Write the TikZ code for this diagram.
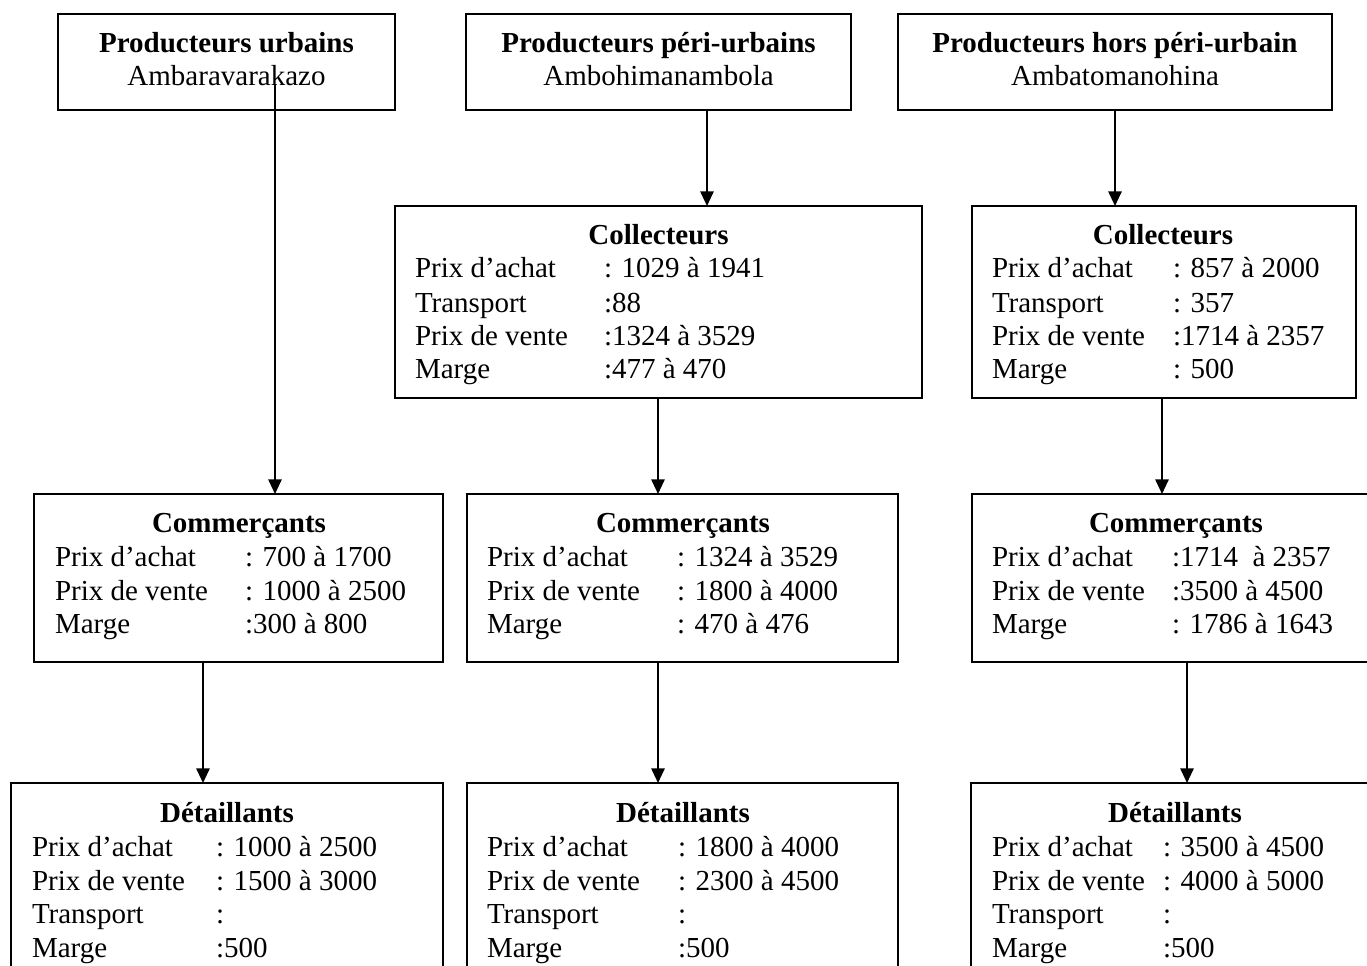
\documentclass[tikz,border=0pt]{standalone}
\usepackage{fontspec}
\setmainfont{Liberation Serif}
\usetikzlibrary{arrows.meta}
\tikzset{
 boxst/.style={draw, line width=1.4pt, inner sep=0pt, outer sep=0pt},
 txt/.style={inner sep=0pt, outer sep=0pt, font=\fontsize{21.75pt}{25.5pt}\selectfont},
 ttl/.style={inner sep=0pt, outer sep=0pt, anchor=base, font=\fontsize{21.75pt}{25.5pt}\selectfont\bfseries},
 sub/.style={txt, anchor=base},
 lab/.style={txt, anchor=base west},
 arr/.style={line width=1.4pt, -{Triangle[length=11pt,width=10pt]}},
}
\newcommand\boxnode[5]{\node[boxst, minimum width={(#4-#2)*0.75pt}, minimum height={(#5-#3)*0.75pt}] (#1) at ({(#2+#4)/2},{(#3+#5)/2}) {};}
\newcommand\rowline[6]{\node[lab] (#1l) at (#2,#4) {#5}; \node[lab] (#1v) at (#3,#4) {#6};}
\begin{document}
\begin{tikzpicture}[x=0.75pt,y=-0.75pt]
\useasboundingbox (0,0) rectangle (1367,966);
\clip (0,0) rectangle (1367,966);
% boxes
\boxnode{p1}{58}{14}{395}{110}
\boxnode{p2}{466}{14}{851}{110}
\boxnode{p3}{898}{14}{1332}{110}
\boxnode{cm}{395}{206}{922}{398}
\boxnode{cr}{972}{206}{1356}{398}
\boxnode{kl}{34}{494}{443}{662}
\boxnode{km}{467}{494}{898}{662}
\boxnode{kr}{972}{494}{1380}{662}
\boxnode{dl}{11}{783}{443}{990}
\boxnode{dm}{467}{783}{898}{990}
\boxnode{dr}{971}{783}{1380}{990}
% producers
\node[ttl] (p1t) at (226.5,53) {Producteurs urbains};
\node[sub] (p1s) at (226.5,86) {Ambaravarakazo};
\node[ttl] (p2t) at (658.5,53) {Producteurs péri-urbains};
\node[sub] (p2s) at (658.5,86) {Ambohimanambola};
\node[ttl] (p3t) at (1115,53) {Producteurs hors péri-urbain};
\node[sub] (p3s) at (1115,86) {Ambatomanohina};
% collecteurs middle
\node[ttl] (cmt) at (658.5,245) {Collecteurs};
\rowline{cma}{415}{604}{278}{Prix d’achat}{: 1029 à 1941}
\rowline{cmb}{415}{604}{312}{Transport}{:88}
\rowline{cmc}{415}{604}{345}{Prix de vente}{:1324 à 3529}
\rowline{cmd}{415}{604}{378}{Marge}{:477 à 470}
% collecteurs right
\node[ttl] (crt) at (1163,245) {Collecteurs};
\rowline{cra}{992}{1173}{278}{Prix d’achat}{: 857 à 2000}
\rowline{crb}{992}{1173}{312}{Transport}{: 357}
\rowline{crc}{992}{1173}{345}{Prix de vente}{:1714 à 2357}
\rowline{crd}{992}{1173}{378}{Marge}{: 500}
% commercants left
\node[ttl] (klt) at (239,532) {Commerçants};
\rowline{kla}{55}{245}{566}{Prix d’achat}{: 700 à 1700}
\rowline{klb}{55}{245}{600}{Prix de vente}{: 1000 à 2500}
\rowline{klc}{55}{245}{633}{Marge}{:300 à 800}
% commercants middle
\node[ttl] (kmt) at (683,532) {Commerçants};
\rowline{kma}{487}{677}{566}{Prix d’achat}{: 1324 à 3529}
\rowline{kmb}{487}{677}{600}{Prix de vente}{: 1800 à 4000}
\rowline{kmc}{487}{677}{633}{Marge}{: 470 à 476}
% commercants right
\node[ttl] (krt) at (1176,532) {Commerçants};
\rowline{kra}{992}{1172}{566}{Prix d’achat}{:1714\ \ à 2357}
\rowline{krb}{992}{1172}{600}{Prix de vente}{:3500 à 4500}
\rowline{krc}{992}{1172}{633}{Marge}{: 1786 à 1643}
% detaillants left
\node[ttl] (dlt) at (227,822) {Détaillants};
\rowline{dla}{32}{216}{856}{Prix d’achat}{: 1000 à 2500}
\rowline{dlb}{32}{216}{890}{Prix de vente}{: 1500 à 3000}
\rowline{dlc}{32}{216}{923}{Transport}{:}
\rowline{dld}{32}{216}{957}{Marge}{:500}
% detaillants middle
\node[ttl] (dmt) at (683,822) {Détaillants};
\rowline{dma}{487}{678}{856}{Prix d’achat}{: 1800 à 4000}
\rowline{dmb}{487}{678}{890}{Prix de vente}{: 2300 à 4500}
\rowline{dmc}{487}{678}{923}{Transport}{:}
\rowline{dmd}{487}{678}{957}{Marge}{:500}
% detaillants right
\node[ttl] (drt) at (1175,822) {Détaillants};
\rowline{dra}{992}{1163}{856}{Prix d’achat}{: 3500 à 4500}
\rowline{drb}{992}{1163}{890}{Prix de vente}{: 4000 à 5000}
\rowline{drc}{992}{1163}{923}{Transport}{:}
\rowline{drd}{992}{1163}{957}{Marge}{:500}
% connectors
\coordinate (s1) at (275,85);
\coordinate (x2) at (707,0);
\coordinate (x3) at (1115,0);
\coordinate (x4) at (658,0);
\coordinate (x5) at (1162,0);
\coordinate (x6) at (203,0);
\coordinate (x7) at (658,0);
\coordinate (x8) at (1187,0);
\draw[arr] (s1) -- (s1 |- kl.north);
\draw[arr] (x2 |- p2.south) -- (x2 |- cm.north);
\draw[arr] (x3 |- p3.south) -- (x3 |- cr.north);
\draw[arr] (x4 |- cm.south) -- (x4 |- km.north);
\draw[arr] (x5 |- cr.south) -- (x5 |- kr.north);
\draw[arr] (x6 |- kl.south) -- (x6 |- dl.north);
\draw[arr] (x7 |- km.south) -- (x7 |- dm.north);
\draw[arr] (x8 |- kr.south) -- (x8 |- dr.north);
\end{tikzpicture}
\end{document}
